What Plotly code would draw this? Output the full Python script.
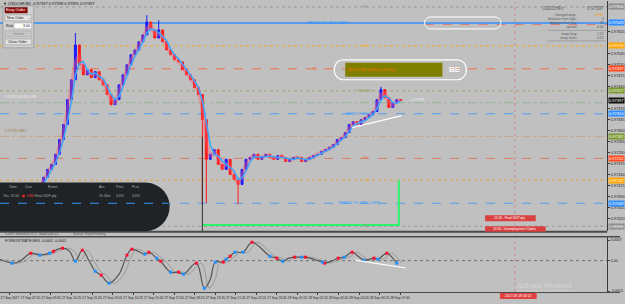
import plotly.graph_objects as go
import pandas as pd

W, H = 625, 304
def px(x): return x / W
def py(y): return 1 - y / H

# ---------------- data ----------------
bar_x = list(range(20, 405, 4))
close = [0.97082, 0.97088, 0.97107, 0.97126, 0.97113, 0.97129, 0.97152, 0.97177, 0.97193, 0.97225,
         0.97272, 0.97320, 0.97399, 0.97462, 0.97573, 0.97510, 0.97478, 0.97494, 0.97469, 0.97488,
         0.97462, 0.97446, 0.97415, 0.97383, 0.97399, 0.97446, 0.97478, 0.97510, 0.97542, 0.97557,
         0.97583, 0.97605, 0.97646, 0.97621, 0.97595, 0.97621, 0.97583, 0.97557, 0.97542, 0.97526,
         0.97519, 0.97494, 0.97478, 0.97462, 0.97437, 0.97415, 0.97335, 0.97209, 0.97225, 0.97240,
         0.97193, 0.97177, 0.97209, 0.97161, 0.97145, 0.97129, 0.97177, 0.97209, 0.97215, 0.97225,
         0.97209, 0.97218, 0.97225, 0.97215, 0.97209, 0.97221, 0.97215, 0.97202, 0.97209, 0.97215,
         0.97215, 0.97202, 0.97209, 0.97215, 0.97221, 0.97225, 0.97234, 0.97240, 0.97247, 0.97256,
         0.97272, 0.97278, 0.97294, 0.97320, 0.97329, 0.97320, 0.97335, 0.97342, 0.97351, 0.97361,
         0.97399, 0.97431, 0.97405, 0.97374, 0.97389, 0.97399, 0.97397]
hi_idx = [14, 32, 35, 91]
hi_val = [0.97611, 0.97668, 0.97652, 0.97440]
lo_idx = [46, 47, 55]
lo_val = [0.97066, 0.97070, 0.97066]

level_price = [0.97694, 0.97643, 0.97570, 0.97497, 0.97427, 0.97389, 0.97354, 0.97282, 0.97212, 0.97142, 0.97069, 0.96996]
level_color = ['#8e8e8e', '#2f8fff', '#ffa500', '#ff5a30', '#9a9a5a', '#8fae8f', '#3399ff', '#caa07c', '#e66a48', '#f0a020', '#3399ff', '#8e8e8e']
level_dash = ['dot', 'solid', 'dot', 'dash', 'dot', 'dashdot', 'dash', 'dashdot', 'dash', 'dot', 'dash', 'dot']
level_label = ['R3', 'WEEKLY R1 (BUY LIMIT)', 'R2', 'R1', 'WEEKLY', '', 'WEEKLY PIVOT', '', 'PP', 'S1', 'WEEKLY S1 (SELL LIMIT)', 'S3']
tag_color = ['#8e8e8e', '#2f8fff', '#ffa500', '#ff4a20', '#7a9a30', None, '#2f8fff', '#7a9a30', '#ff4a20', '#ffa500', '#2f8fff', '#8e8e8e']

trend_x = [355, 405]
trend_p = [0.97310, 0.97348]
green_x = [204, 402, 402]
green_p = [0.97000, 0.97000, 0.97142]

osc_x = [0, 12, 20, 31, 40, 50, 54, 63, 70, 76, 83, 90, 96, 102, 110, 120, 128, 133, 146, 150, 158, 162,
         172, 180, 185, 198, 206, 212, 217, 225, 228, 232, 237, 245, 254, 262, 272, 279, 285, 291, 297,
         304, 308, 316, 325, 327, 334, 341, 347, 355, 361, 367, 377, 381, 390, 395, 400]
osc_v = [0.00005, -0.000085, -0.00002, 0.000256, 0.000188, 0.000256, 0.000324, 0.000426, 0.000324, -0.00002,
         0.000358, -0.00002, -0.000358, -0.000494, -0.000767, -0.00046, 0.000188, 0.000392, 0.000222, 0.00029,
         0.000085, -0.00002, -0.000392, -0.000392, -0.00046, -0.000085, -0.00094, -0.00063, -0.00005, -0.00005,
         0.00005, 0.000153, 0.00029, 0.00029, 0.000631, 0.00046, 0.000153, 0.000085, -0.00002, 0.000085,
         0.000119, 0.000119, 0.000119, 0.00005, -0.00005, -0.000085, -0.00002, 0.000085, 0.000119, 0.00029,
         0.000153, 0.000017, 0.000085, 0.00005, 0.000256, 0.000119, -0.000085]
osc_dot = ['', 'b', '', 'r', 'b', 'b', 'r', 'r', '', 'b', 'r', '', 'b', 'r', 'b', '', 'r', 'r', 'b', 'r',
           'b', 'r', 'b', 'r', 'b', 'r', 'b', '', 'b', 'r', 'b', 'r', 'b', 'b', 'r', '', 'b', 'r', 'b', '',
           'r', 'b', 'r', '', 'b', 'r', '', 'r', 'b', 'r', '', 'b', 'r', 'b', 'r', '', 'b']
osc_trend_x = [358, 409]
osc_trend_v = [0.00002, -0.00025]

xtick_pos = [10 + 20.7 * i for i in range(20)]
xtick_text = ['27 Sep 2017', '27 Sep 07:45', '27 Sep 09:05', '27 Sep 10:25', '27 Sep 11:45', '27 Sep 13:05',
              '27 Sep 14:25', '27 Sep 15:45', '27 Sep 17:05', '27 Sep 18:25', '27 Sep 19:45', '27 Sep 21:05',
              '27 Sep 22:25', '27 Sep 23:45', '28 Sep 01:05', '28 Sep 02:25', '28 Sep 03:45', '28 Sep 05:05',
              '28 Sep 06:25', '28 Sep 07:45']

# ---------------- derived OHLC ----------------
opens = [close[0] - 0.00004] + close[:-1]
highs = [max(o, c) for o, c in zip(opens, close)]
lows = [min(o, c) for o, c in zip(opens, close)]
for i, v in zip(hi_idx, hi_val):
    highs[i] = v
for i, v in zip(lo_idx, lo_val):
    lows[i] = v
s = pd.Series(close)
ma_fast = s.rolling(3, min_periods=1).mean()
ma_pink = s.rolling(2, min_periods=1).mean()

ymin, ymax = 0.96980, 0.97713
tag_prices = [p for p, c in zip(level_price, tag_color) if c] + [close[-1]]
ytickvals = []
v = 0.96950
while v < ymax:
    if v > ymin + 0.00005 and all(abs(v - t) > 0.00012 for t in tag_prices):
        ytickvals.append(round(v, 5))
    v += 0.00035

fig = go.Figure()
fig.add_trace(go.Scatter(x=bar_x, y=ma_pink, mode='lines', line=dict(color='rgba(255,90,110,0.4)', width=4),
                         hoverinfo='skip', xaxis='x', yaxis='y'))
fig.add_trace(go.Candlestick(x=bar_x, open=opens, high=highs, low=lows, close=close,
                             increasing=dict(line=dict(color='#1a1aff', width=1), fillcolor='#1a1aff'),
                             decreasing=dict(line=dict(color='#ff1a1a', width=1), fillcolor='#ff1a1a'),
                             whiskerwidth=0, xaxis='x', yaxis='y'))
fig.add_trace(go.Scatter(x=bar_x, y=ma_fast, mode='lines', line=dict(color='#3aa6ff', width=1.5),
                         xaxis='x', yaxis='y'))
fig.add_trace(go.Scatter(x=trend_x, y=trend_p, mode='lines', line=dict(color='white', width=1.2),
                         xaxis='x', yaxis='y'))
fig.add_trace(go.Scatter(x=green_x, y=green_p, mode='lines', line=dict(color='#2cf36a', width=2),
                         xaxis='x', yaxis='y'))

sig_x = [v + 5 for v in osc_x]
fig.add_trace(go.Scatter(x=sig_x, y=osc_v, mode='lines', line=dict(color='#9a9a9a', width=1, shape='spline'),
                         xaxis='x2', yaxis='y2'))
fig.add_trace(go.Scatter(x=osc_x, y=osc_v, mode='lines', line=dict(color='#555555', width=1.2, shape='spline'),
                         xaxis='x2', yaxis='y2'))
for code, col in (('r', '#ff1030'), ('b', '#1e90ff')):
    xs = [x for x, d in zip(osc_x, osc_dot) if d == code]
    vs = [v for v, d in zip(osc_v, osc_dot) if d == code]
    fig.add_trace(go.Scatter(x=xs, y=vs, mode='markers', marker=dict(color=col, size=3, symbol='square'),
                             xaxis='x2', yaxis='y2'))
fig.add_trace(go.Scatter(x=osc_trend_x, y=osc_trend_v, mode='lines', line=dict(color='white', width=1.2),
                         xaxis='x2', yaxis='y2'))

shapes = []
annotations = []
FONT = 'Liberation Sans'

def ann(x, y, text, size=4, color='#202020', xanchor='left', yanchor='middle', bg=None, **kw):
    d = dict(x=px(x), y=py(y), xref='paper', yref='paper', text=text, showarrow=False,
             xanchor=xanchor, yanchor=yanchor, font=dict(size=size, color=color, family=FONT),
             borderpad=0)
    if bg:
        d['bgcolor'] = bg
    d.update(kw)
    annotations.append(d)

def rect(x0, y0, x1, y1, fill, line=None, lw=0.6, layer='above'):
    shapes.append(dict(type='rect', xref='paper', yref='paper', x0=px(x0), x1=px(x1), y0=py(y1), y1=py(y0),
                       fillcolor=fill, line=dict(color=line or fill, width=lw if line else 0), layer=layer))

def pline(x0, y0, x1, y1, color, width=1, dash='solid'):
    shapes.append(dict(type='line', xref='paper', yref='paper', x0=px(x0), x1=px(x1), y0=py(y0), y1=py(y1),
                       line=dict(color=color, width=width, dash=dash)))

def rrect_path(x0, y0, x1, y1, r):
    k = 0.45
    pts = [('M', x0 + r, y0), ('L', x1 - r, y0), ('C', x1 - r * k, y0, x1, y0 + r * k, x1, y0 + r),
           ('L', x1, y1 - r), ('C', x1, y1 - r * k, x1 - r * k, y1, x1 - r, y1), ('L', x0 + r, y1),
           ('C', x0 + r * k, y1, x0, y1 - r * k, x0, y1 - r), ('L', x0, y0 + r),
           ('C', x0, y0 + r * k, x0 + r * k, y0, x0 + r, y0)]
    out = []
    for p in pts:
        cmd = p[0]
        coords = p[1:]
        cs = ' '.join('%.5f,%.5f' % (px(coords[i]), py(coords[i + 1])) for i in range(0, len(coords), 2))
        out.append(cmd + ' ' + cs)
    return ' '.join(out) + ' Z'

for p, c, d in zip(level_price, level_color, level_dash):
    shapes.append(dict(type='line', xref='x', yref='y', x0=0, x1=612, y0=p, y1=p,
                       line=dict(color=c, width=1.3 if d == 'solid' else 0.8, dash=d), layer='below'))
shapes.append(dict(type='line', xref='x', yref='y', x0=428, x1=612, y0=0.97638, y1=0.97638,
                   line=dict(color='#e07060', width=0.8, dash='dash'), layer='below'))
shapes.append(dict(type='line', xref='paper', yref='paper', x0=px(519), x1=px(519), y0=py(293), y1=py(2),
                   line=dict(color='#d08080', width=0.8, dash='dot'), layer='below'))
shapes.append(dict(type='line', xref='x', yref='y', x0=204, x1=204, y0=0.96980, y1=0.97280,
                   line=dict(color='#303030', width=1)))
shapes.append(dict(type='line', xref='x2', yref='y2', x0=0, x1=612, y0=0, y1=0,
                   line=dict(color='#707070', width=1, dash='dot'), layer='below'))

lab_x = [368, 330, 368, 318, 368, 0, 362, 0, 368, 370, 362, 368]
for p, c, t, lx in zip(level_price, level_color, level_label, lab_x):
    if t:
        annotations.append(dict(x=lx, y=p, xref='x', yref='y', text=t, showarrow=False, xanchor='center',
                                yanchor='middle', font=dict(size=3.6, color=c, family=FONT)))
annotations.append(dict(x=3, y=0.97395, xref='x', yref='y', text='0.97373 (0.89) 0.89', showarrow=False,
                        xanchor='left', yanchor='bottom', font=dict(size=3.6, color='#f0f0f0', family=FONT)))
annotations.append(dict(x=3, y=0.97285, xref='x', yref='y', text='0.97282 (BE)', showarrow=False,
                        xanchor='left', yanchor='bottom', font=dict(size=3.6, color='#a08050', family=FONT)))
annotations.append(dict(x=408, y=0.97397, xref='x', yref='y', text='← 0.97397', showarrow=False,
                        xanchor='left', yanchor='middle', font=dict(size=3.6, color='#eeeeee', family=FONT)))

for p, c in zip(level_price, tag_color):
    if c:
        annotations.append(dict(x=px(613), y=p, xref='paper', yref='y', text='%.5f' % p, showarrow=False,
                                xanchor='left', yanchor='middle', bgcolor=c, borderpad=0,
                                font=dict(size=4, color='white', family=FONT)))
annotations.append(dict(x=px(613), y=close[-1], xref='paper', yref='y', text='%.5f' % close[-1], showarrow=False,
                        xanchor='left', yanchor='middle', bgcolor='#101010', borderpad=0,
                        font=dict(size=4, color='white', family=FONT)))

pline(0, 232.5, 612, 232.5, '#4a4a4a', 2)
pline(0, 237.5, 625, 237.5, '#4a4a4a', 1.5)
pline(0, 293.5, 625, 293.5, '#4a4a4a', 1)

ann(2, 3.5, '▼ USDCHF,M1  0.97397 0.97398 0.97395 0.97397', size=4, color='#101010')

rect(3, 6, 34, 48, '#d0d0d0', '#8a8a8a', 0.6)
rect(5, 7.5, 27.5, 13, '#8b0a0a', '#600000', 0.5)
ann(16, 10.3, 'Easy Order', size=3.8, color='white', xanchor='center')
rect(5, 15, 32, 21, '#e4e4e4', '#8a8a8a', 0.5)
ann(6.5, 18, 'New Order', size=3.5, color='#202020')
ann(30, 18, '⌄', size=3.5, color='#404040', xanchor='center')
ann(5.5, 26, 'Risk', size=3.6, color='#101010')
rect(14, 23, 32, 29, '#ffffff', '#8a8a8a', 0.5)
ann(31.5, 26, '3.00', size=3.6, color='#101010', xanchor='right')
rect(5, 31, 32, 37, '#c6c6c6', '#a0a0a0', 0.5)
ann(18.5, 34, 'Submit', size=3.5, color='#8a8a8a', xanchor='center')
rect(5, 39, 32, 45, '#e0e0e0', '#8a8a8a', 0.5)
ann(18.5, 42, 'Close Order', size=3.5, color='#202020', xanchor='center')

ann(545, 9, 'USDCHFz', size=4.6, color='#585858')
ann(610, 9, '0.97397', size=4.6, color='#585858', xanchor='right')
info_rows = [('change/range :', '33/31', '#ff9a00', 15), ('distance from high :', '0', '#585858', 19),
             ('distance from low :', '31', '#585858', 23), ('spread :', '0.00', '#585858', 27),
             ('swap long :', '1.22', '#585858', 34), ('swap short :', '-0.07', '#585858', 38)]
for lbl, val, vc, yy in info_rows:
    ann(584, yy, lbl, size=3.4, color='#585858', xanchor='right')
    ann(610, yy, val, size=3.4, color=vc, xanchor='right')
pline(552, 30.5, 611, 30.5, '#8a8a8a', 0.6)
pline(552, 41, 611, 41, '#8a8a8a', 0.6)

shapes.append(dict(type='path', path=rrect_path(428, 17, 505, 29, 6), xref='paper', yref='paper',
                   line=dict(color='white', width=1), fillcolor='rgba(0,0,0,0)'))
shapes.append(dict(type='path', path=rrect_path(337, 60, 470, 80, 9), xref='paper', yref='paper',
                   line=dict(color='white', width=1.2), fillcolor='rgba(0,0,0,0)'))
rect(348, 63, 446, 77, '#808000')
ann(350, 70, 'BE 0.97282 (0.89) for 30 Sep', size=3.6, color='#ff6a00')
ann(452, 70, '<b>BE</b>', size=8, color='white')

news_path = ('M %.5f,%.5f L %.5f,%.5f C %.5f,%.5f %.5f,%.5f %.5f,%.5f C %.5f,%.5f %.5f,%.5f %.5f,%.5f L %.5f,%.5f Z' %
             (px(0), py(183), px(146), py(183), px(160), py(183), px(171), py(194), px(171), py(207),
              px(171), py(221), px(160), py(232), px(146), py(232), px(0), py(232)))
shapes.append(dict(type='path', path=news_path, xref='paper', yref='paper', fillcolor='#1f2326',
                   line=dict(color='#1f2326', width=0), layer='above'))
for t, xx in (('Time', 8), ('Curr.', 24), ('Event', 47), ('Act.', 99), ('Prev.', 116), ('Fcst.', 132)):
    ann(xx, 188, t, size=3.6, color='#b0b0b0')
ann(2, 197, 'Thu  11:00', size=3.4, color='#b0b0b0')
rect(22.5, 195.5, 25, 198, '#ff2020')
ann(26, 197, 'USD', size=3.4, color='#ff4040')
ann(34, 197, 'Final GDP q/q', size=3.4, color='#b0b0b0')
ann(99, 197, '2h 26m', size=3.4, color='#b0b0b0')
ann(116, 197, '3.0%', size=3.4, color='#b0b0b0')
ann(132, 197, '3.0%', size=3.4, color='#b0b0b0')
shapes.append(dict(type='line', xref='x', yref='y', x0=0, x1=170, y0=level_price[10], y1=level_price[10],
                   line=dict(color='#3399ff', width=1, dash='dash')))
ann(4, 235, 'LuxFX NewsInfo v1.0 - www.luxfx.eu', size=3.3, color='#505050')
ann(73, 235, 'Source: Forex Factory', size=3.3, color='#505050')

rect(489, 216, 540, 222, '#d94040')
ann(514, 219, '15:30 - Final GDP q/q', size=3.2, color='white', xanchor='center')
rect(489, 227, 550, 232.5, '#d94040')
ann(519, 229.8, '15:30 - Unemployment Claims', size=3.2, color='white', xanchor='center')

ann(4, 242, 'FOREXSTRATEGIES -0.0001 -0.0001', size=3.6, color='#202020')

rect(504, 294, 541, 300, '#e04040')
ann(522.5, 297, '2017.09.28 03:52', size=3.4, color='white', xanchor='center')

ann(520, 286, 'Activate Windows', size=7, color='rgba(230,230,230,0.55)')
ann(520, 292, 'Go to Settings to activate Windows.', size=3.4, color='rgba(230,230,230,0.55)')

fig.update_layout(
    width=W, height=H, margin=dict(l=0, r=0, t=0, b=0),
    paper_bgcolor='#c0c0c0', plot_bgcolor='#c0c0c0', showlegend=False,
    font=dict(family=FONT, size=4, color='#202020'),
    xaxis=dict(domain=[0, 612 / W], range=[0, 612], anchor='y', showticklabels=False, showgrid=False,
               zeroline=False, rangeslider=dict(visible=False), showline=False, ticks=''),
    yaxis=dict(domain=[py(232), py(1)], range=[ymin, ymax], side='right', anchor='x',
               showgrid=False, zeroline=False, showline=True, linecolor='#3a3a3a', linewidth=1,
               ticks='outside', ticklen=2, tickcolor='#3a3a3a', tickvals=ytickvals,
               tickformat='.5f', tickfont=dict(size=3.8, color='#202020')),
    xaxis2=dict(domain=[0, 612 / W], range=[0, 612], anchor='y2', showgrid=False, zeroline=False,
                tickvals=xtick_pos, ticktext=xtick_text, ticks='outside', ticklen=2, tickcolor='#3a3a3a',
                tickangle=0, tickfont=dict(size=3.3, color='#202020'), showline=False),
    yaxis2=dict(domain=[py(293), py(238)], range=[-0.00107, 0.0008], side='right', anchor='x2',
                showgrid=False, zeroline=False, showline=True, linecolor='#3a3a3a', linewidth=1,
                tickvals=[0.0007, 0, -0.00104], ticktext=['0.0007', '0.00', '-0.0013'], ticks='outside',
                ticklen=2, tickfont=dict(size=3.6, color='#202020')),
    shapes=shapes, annotations=annotations,
)
fig.write_html('out.html')
